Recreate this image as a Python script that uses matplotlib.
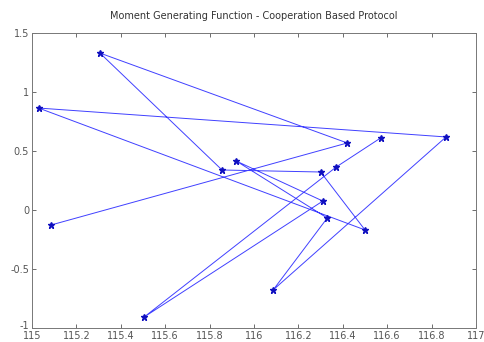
import matplotlib
matplotlib.use("Agg")
import matplotlib.pyplot as plt
import matplotlib.transforms as mtransforms

title = "Moment Generating Function - Cooperation Based Protocol"
x_vals = [115.086, 116.42, 115.306, 115.856, 116.30, 116.50, 115.03, 116.865,
          116.086, 116.33, 115.92, 116.31, 115.505, 116.37, 116.57]
y_vals = [-0.127, 0.568, 1.33, 0.339, 0.322, -0.169, 0.864, 0.619,
          -0.678, -0.068, 0.415, 0.076, -0.907, 0.364, 0.61]
x_ticks = [115, 115.2, 115.4, 115.6, 115.8, 116, 116.2, 116.4, 116.6, 116.8, 117]
x_tick_labels = ["115", "115.2", "115.4", "115.6", "115.8", "116", "116.2", "116.4", "116.6", "116.8", "117"]
y_ticks = [-1, -0.5, 0, 0.5, 1, 1.5]
y_tick_labels = ["-1", "-0.5", "0", "0.5", "1", "1.5"]

fig = plt.figure(figsize=(4.84, 3.42), dpi=100)
ax = fig.add_axes([32/484, 1 - 328/342, (476-32)/484, (328-33)/342])
ax.plot(x_vals, y_vals, color="#4040ff", linewidth=0.7, marker="*",
        markersize=4.5, markerfacecolor="#1010c0", markeredgecolor="#1010c0")
ax.set_xlim(115, 117)
ax.set_ylim(-1, 1.5)
ax.set_xticks(x_ticks)
ax.set_xticklabels(x_tick_labels)
ax.set_yticks(y_ticks)
ax.set_yticklabels(y_tick_labels)
ax.tick_params(direction="in", top=True, right=True, labelsize=7, length=3,
               width=0.6, colors="#555555")
ax.tick_params(axis="x", pad=2.5)
ax.tick_params(axis="y", pad=2)
# nudge the lowest y label up slightly so it does not collide with "115"
lbl = ax.get_yticklabels()[0]
lbl.set_transform(lbl.get_transform() + mtransforms.ScaledTranslation(0, 3/100, fig.dpi_scale_trans))
for s in ax.spines.values():
    s.set_color("#777777")
    s.set_linewidth(0.7)
ax.set_title(title, fontsize=7, color="#333333", pad=10)
fig.savefig("out.png", dpi=100)
